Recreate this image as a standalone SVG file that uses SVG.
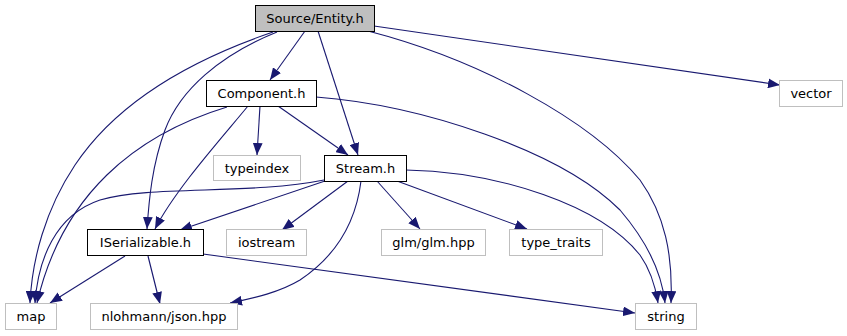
<svg xmlns="http://www.w3.org/2000/svg" width="847" height="336" viewBox="0 0 847 336">
  <style>
    .node rect { fill: #ffffff; stroke: #000000; stroke-width: 1; }
    .node.root rect { fill: #bfbfbf; }
    .node.ext rect { stroke: #bfbfbf; }
    .node text { font-family: "DejaVu Sans", "Liberation Sans", sans-serif; font-size: 13px; fill: #000000; text-anchor: middle; }
    .edge { fill: none; stroke: #191970; stroke-width: 1.1; marker-end: url(#arrow); }
  </style>
  <defs>
    <marker id="arrow" markerUnits="userSpaceOnUse" markerWidth="12" markerHeight="10" refX="11" refY="4.5" orient="auto" viewBox="0 0 11 9">
      <path d="M0,0 L11,4.5 L0,9 Z" fill="#191970"/>
    </marker>
  </defs>
  <rect width="847" height="336" fill="#ffffff"/>

  <!-- include dependencies -->
  <g id="edges">
    <path class="edge" d="M305,31 L270,80"/>
    <path class="edge" d="M318,31 L358,155"/>
    <path class="edge" d="M374,26 L780,85"/>
    <path class="edge" d="M368,31 C480,60 590,120 640,180 C665,215 673,255 671,303"/>
    <path class="edge" d="M273,32 C185,62 115,105 75,165 C45,210 32,260 30,303"/>
    <path class="edge" d="M277,32 C220,55 180,90 165,130 C152,165 149,200 147,229"/>
    <path class="edge" d="M260,106 L257,155"/>
    <path class="edge" d="M278,106 L348,155"/>
    <path class="edge" d="M248,106 C220,140 175,190 155,229"/>
    <path class="edge" d="M227,107 C135,135 62,195 37,303"/>
    <path class="edge" d="M316,97 C420,105 560,150 620,210 C650,245 662,275 665,303"/>
    <path class="edge" d="M325,181 L180,230"/>
    <path class="edge" d="M324,180 C250,195 150,185 100,200 C55,215 38,260 35,303"/>
    <path class="edge" d="M348,181 L282,230"/>
    <path class="edge" d="M361,181 C355,230 330,260 300,280 C280,292 255,298 230,303"/>
    <path class="edge" d="M377,181 L420,229"/>
    <path class="edge" d="M397,181 L527,229"/>
    <path class="edge" d="M406,170 C500,172 600,205 640,255 C652,272 656,290 658,303"/>
    <path class="edge" d="M125,256 L50,303"/>
    <path class="edge" d="M148,256 L160,304"/>
    <path class="edge" d="M203,254 L635,313"/>
  </g>

  <g id="node-entity" class="node root">
    <rect x="255.5" y="5.5" width="119" height="26"/>
    <text x="315" y="22.5">Source/Entity.h</text>
  </g>
  <g id="node-component" class="node">
    <rect x="206.5" y="80.5" width="110" height="26"/>
    <text x="261.5" y="97.5">Component.h</text>
  </g>
  <g id="node-vector" class="node ext">
    <rect x="779.5" y="80.5" width="63" height="26"/>
    <text x="811" y="97.5">vector</text>
  </g>
  <g id="node-typeindex" class="node ext">
    <rect x="213.5" y="155.5" width="87" height="25"/>
    <text x="257" y="172.5">typeindex</text>
  </g>
  <g id="node-stream" class="node">
    <rect x="324.5" y="155.5" width="82" height="26"/>
    <text x="365.5" y="172.5">Stream.h</text>
  </g>
  <g id="node-iserializable" class="node">
    <rect x="87.5" y="229.5" width="116" height="26"/>
    <text x="145.5" y="246.5">ISerializable.h</text>
  </g>
  <g id="node-iostream" class="node ext">
    <rect x="226.5" y="229.5" width="80" height="26"/>
    <text x="266.5" y="246.5">iostream</text>
  </g>
  <g id="node-glm" class="node ext">
    <rect x="381.5" y="229.5" width="104" height="26"/>
    <text x="433.5" y="246.5">glm/glm.hpp</text>
  </g>
  <g id="node-type-traits" class="node ext">
    <rect x="509.5" y="229.5" width="93" height="26"/>
    <text x="556" y="246.5">type_traits</text>
  </g>
  <g id="node-map" class="node ext">
    <rect x="5.5" y="303.5" width="51" height="26"/>
    <text x="31" y="320.5">map</text>
  </g>
  <g id="node-json" class="node ext">
    <rect x="90.5" y="303.5" width="147" height="26"/>
    <text x="164" y="320.5">nlohmann/json.hpp</text>
  </g>
  <g id="node-string" class="node ext">
    <rect x="635.5" y="303.5" width="61" height="26"/>
    <text x="666" y="320.5">string</text>
  </g>
</svg>
